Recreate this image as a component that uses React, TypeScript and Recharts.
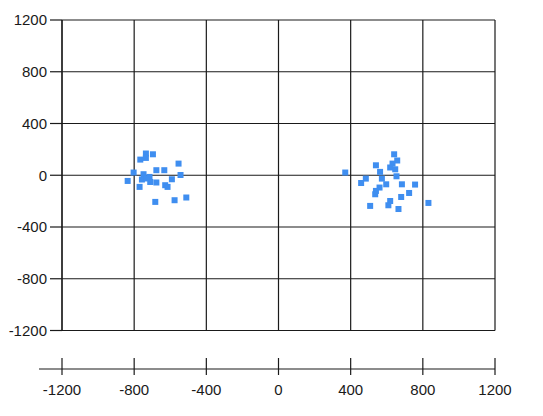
import { ScatterChart, Scatter, XAxis, YAxis, CartesianGrid } from 'recharts'

const xTicks = [-1200, -800, -400, 0, 400, 800, 1200]
const yTicks = [-1200, -800, -400, 0, 400, 800, 1200]

const leftX = [-735, -696, -766, -735, -554, -803, -836, -748, -715, -757, -711, -677, -633, -677, -591, -543, -628, -615, -770, -683, -576, -511, -729]
const leftY = [168, 162, 121, 134, 90, 21, -44, 8, -13, -33, -52, 39, 39, -56, -31, 2, -77, -90, -90, -206, -193, -172, -25]

const rightX = [370, 641, 658, 632, 619, 647, 654, 540, 563, 484, 458, 573, 597, 684, 757, 560, 540, 536, 724, 680, 619, 609, 508, 665, 831]
const rightY = [21, 162, 114, 90, 60, 46, -8, 77, 26, -26, -60, -26, -70, -70, -72, -95, -121, -147, -137, -168, -199, -232, -237, -261, -214]

const points = [
  ...leftX.map((x, i) => ({ x, y: leftY[i] })),
  ...rightX.map((x, i) => ({ x, y: rightY[i] })),
]

const FONT = '"Liberation Sans", Arial, sans-serif'
const INK = '#1a1a1a'

function BottomTick({ x, y, payload, index }: any) {
  return (
    <g>
      {index === 0 && (
        <line x1={x - 23} x2={x + 433} y1={y + 38.5} y2={y + 38.5} stroke={INK} strokeWidth={1.2} />
      )}
      <line x1={x} x2={x} y1={y + 27.5} y2={y + 44.5} stroke={INK} strokeWidth={1.2} />
      <text x={x} y={y + 64} textAnchor="middle" fontSize={15} fontFamily={FONT} fill={INK}>
        {payload.value}
      </text>
    </g>
  )
}

function Square({ cx, cy }: any) {
  return <rect x={cx - 3} y={cy - 3} width={6} height={6} fill="#3f8ef0" />
}

export default function App() {
  return (
    <ScatterChart
      width={535}
      height={400}
      margin={{ top: 12, right: 48, left: 0, bottom: 7.5 }}
    >
      <CartesianGrid stroke={INK} strokeWidth={1.2} horizontalValues={yTicks} verticalValues={xTicks} />
      <XAxis
        type="number"
        dataKey="x"
        domain={[-1200, 1200]}
        ticks={xTicks}
        height={70}
        axisLine={false}
        tickLine={false}
        tickSize={0}
        tickMargin={0}
        tick={<BottomTick />}
        interval={0}
      />
      <YAxis
        type="number"
        dataKey="y"
        domain={[-1200, 1200]}
        ticks={yTicks}
        width={54}
        axisLine={{ stroke: INK, strokeWidth: 1.2 }}
        tickLine={{ stroke: INK, strokeWidth: 1.2 }}
        tickSize={12}
        tickMargin={3}
        interval={0}
        tick={{ fontSize: 15, fontFamily: FONT, fill: INK }}
      />
      <Scatter data={points} shape={<Square />} isAnimationActive={false} />
    </ScatterChart>
  )
}
